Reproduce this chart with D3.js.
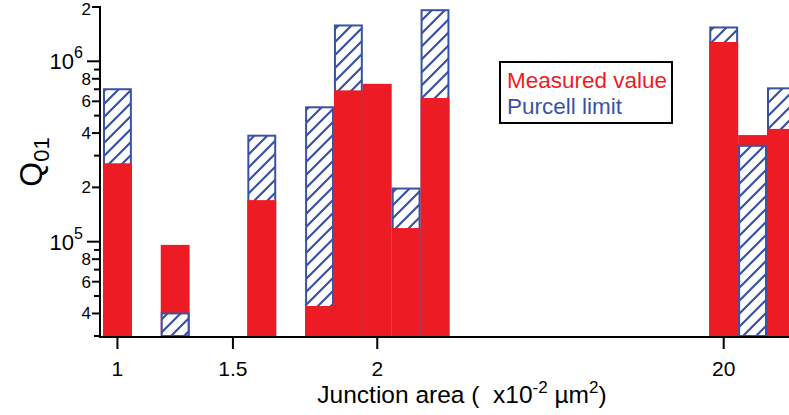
<!DOCTYPE html>
<html>
<head>
<meta charset="utf-8">
<script src="https://cdn.jsdelivr.net/npm/d3@7/dist/d3.min.js"></script>
<style>
  html, body { margin: 0; padding: 0; background: #fff; }
  svg { display: block; font-family: "Liberation Sans", Arial, Helvetica, sans-serif; }
</style>
</head>
<body>
<svg id="chart" width="789" height="415"></svg>
<script>
// ---- data ----
const slotLabels = ["1","","","","1.5","","","","","2","","","","","","","","","","","","20","",""];
const measured = [2.72e5, null, 9.6e4, null, null, 1.70e5, null, 4.4e4, 6.9e5, 7.5e5, 1.19e5, 6.26e5,
                  null, null, null, null, null, null, null, null, null, 1.28e6, 3.9e5, 4.22e5];
const purcell  = [7.0e5, null, 4.0e4, null, null, 3.87e5, null, 5.56e5, 1.58e6, null, 1.97e5, 1.92e6,
                  null, null, null, null, null, null, null, null, null, 1.54e6, 3.4e5, 7.08e5];
const yLabeledTicks = [4e4, 6e4, 8e4, 1e5, 2e5, 4e5, 6e5, 8e5, 1e6, 2e6];
const yLabels = ["4", "6", "8", "10^5", "2", "4", "6", "8", "10^6", "2"];
const yMinorTicks = [3e4, 5e4, 7e4, 9e4, 3e5, 5e5, 7e5, 9e5];
const yDomain = [3e4, 2e6];

// ---- styles ----
const RED = "#ed1c24", BLUE = "#3953a4";

const svg = d3.select("#chart");
const x0 = 103, slotW = 28.87;
const x = d3.scaleBand().domain(d3.range(slotLabels.length))
  .range([x0, x0 + slotW * slotLabels.length]).padding(0);
const y = d3.scaleLog().domain(yDomain).range([336, 7]);
const base = y(yDomain[0]);

// hatch pattern
const defs = svg.append("defs");
const pat = defs.append("pattern").attr("id", "hatch")
  .attr("patternUnits", "userSpaceOnUse").attr("width", 13).attr("height", 13);
pat.append("rect").attr("width", 13).attr("height", 13).attr("fill", "#fff");
pat.append("path").attr("d", "M-2,15 L15,-2 M-6,6 L6,-6 M7,19 L19,7")
  .attr("stroke", BLUE).attr("stroke-width", 2.2);

// bars: per slot, larger value drawn first, smaller on top
const bars = svg.append("g");
slotLabels.forEach((_, i) => {
  const items = [];
  if (measured[i] != null) items.push({type: "m", v: measured[i]});
  if (purcell[i] != null) items.push({type: "p", v: purcell[i]});
  items.sort((a, b) => b.v - a.v);
  items.forEach(d => {
    if (d.type === "m") {
      bars.append("rect")
        .attr("x", x(i)).attr("width", x.bandwidth())
        .attr("y", y(d.v)).attr("height", base - y(d.v))
        .attr("fill", RED);
    } else {
      bars.append("rect")
        .attr("x", x(i) + 1).attr("width", x.bandwidth() - 2)
        .attr("y", y(d.v)).attr("height", base - y(d.v))
        .attr("fill", "url(#hatch)")
        .attr("stroke", BLUE).attr("stroke-width", 2);
    }
  });
});

// axes
const axisG = svg.append("g").attr("stroke", "#000").attr("stroke-width", 2);
axisG.append("line").attr("x1", 100).attr("x2", 100).attr("y1", 6).attr("y2", 338);
axisG.append("line").attr("x1", 99).attr("x2", 789).attr("y1", 337).attr("y2", 337);

// y ticks
yLabeledTicks.forEach((v, k) => {
  const major = yLabels[k].startsWith("10^");
  const len = major ? 13 : 8;
  axisG.append("line").attr("x1", 100 - len).attr("x2", 100)
    .attr("y1", y(v)).attr("y2", y(v));
  if (major) {
    const t = svg.append("text").attr("x", 83).attr("y", y(v) + 8)
      .attr("text-anchor", "end").attr("font-size", 22);
    t.append("tspan").text(yLabels[k].split("^")[0]);
    t.append("tspan").attr("dy", -11).attr("font-size", 16).text(yLabels[k].split("^")[1]);
  } else {
    svg.append("text").attr("x", 91).attr("y", Math.max(y(v) + 6, 15))
      .attr("text-anchor", "end").attr("font-size", 17).text(yLabels[k]);
  }
});
yMinorTicks.forEach(v => {
  axisG.append("line").attr("x1", 94).attr("x2", 100).attr("y1", y(v)).attr("y2", y(v));
});

// x ticks
slotLabels.forEach((lab, i) => {
  if (!lab) return;
  const cx = x(i) + x.bandwidth() / 2;
  axisG.append("line").attr("x1", cx).attr("x2", cx).attr("y1", 337).attr("y2", 349);
  svg.append("text").attr("x", cx).attr("y", 376).attr("text-anchor", "middle")
    .attr("font-size", 21).text(lab);
});

// x label
const xl = svg.append("text").attr("x", 462).attr("y", 403).attr("text-anchor", "middle")
  .attr("font-size", 24.5);
xl.append("tspan").text("Junction area (\u00a0 x10");
xl.append("tspan").attr("dy", -10).attr("font-size", 17).text("-2");
xl.append("tspan").attr("dy", 10).text("\u00a0\u00b5m");
xl.append("tspan").attr("dy", -10).attr("font-size", 17).text("2");
xl.append("tspan").attr("dy", 10).text(")");

// y label
const yl = svg.append("text").attr("transform", "translate(42,162) rotate(-90)")
  .attr("text-anchor", "middle").attr("font-size", 32);
yl.append("tspan").text("Q");
yl.append("tspan").attr("dy", 7).attr("font-size", 22).text("01");

// legend
svg.append("rect").attr("x", 500).attr("y", 62).attr("width", 172).attr("height", 61)
  .attr("fill", "#fff").attr("stroke", "#000").attr("stroke-width", 2);
svg.append("text").attr("x", 507).attr("y", 88).attr("font-size", 22.5)
  .attr("fill", RED).text("Measured value");
svg.append("text").attr("x", 507).attr("y", 114).attr("font-size", 22.5)
  .attr("fill", BLUE).text("Purcell limit");
</script>
</body>
</html>
